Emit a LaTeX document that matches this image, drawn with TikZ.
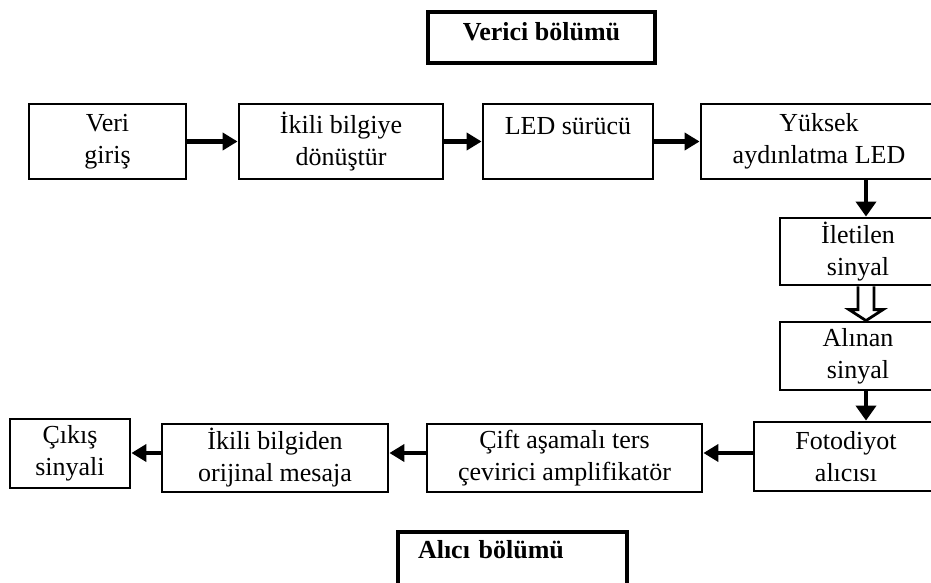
\documentclass[tikz,border=0pt]{standalone}
\usepackage{fontspec}
\setmainfont{Liberation Serif}
\usetikzlibrary{arrows.meta, positioning, calc}

\begin{document}
\begin{tikzpicture}[x=0.5pt, y=-0.5pt,
    blok/.style={draw, line width=1.4pt, align=center, minimum height=37.5pt, inner sep=2pt, font=\fontsize{13}{16}\selectfont},
    ok/.style={-{Triangle[length=7.5pt, width=8.5pt]}, line width=2.2pt},
    bos/.style={line width=1.4pt, fill=white, line join=miter}]

        \useasboundingbox (0,0) rectangle (931,583);

        % ------------------ Verici ------------------

        \node[blok, line width=1.7pt, minimum width=113.5pt, minimum height=25.5pt, text depth=6pt, font=\bfseries\fontsize{13}{16}\selectfont] (verici) at (541.5,37.5) {Verici bölümü};

        \node[blok, minimum width=78.5pt] (veri) at (107.5,141.5) {Veri\\giriş};
        \node[blok, minimum width=102pt] (ikili) at (341,141.5) {İkili bilgiye\\dönüştür};
        \node[blok, minimum width=85pt] (led) at (568,141.5) {LED sürücü\\~};
        \node[blok, minimum width=118pt] (yuksek) at (819,141.5) {Yüksek\\aydınlatma LED};

        % Arrows
        \draw[ok] (veri) -- (ikili);
        \draw[ok] (ikili) -- (led);
        \draw[ok] (led) -- (yuksek);

        % ------------------ Sinyal ------------------

        \node[blok, minimum width=78pt, minimum height=33.5pt] (iletilen) at (858,251.5) {İletilen\\sinyal};
        \node[blok, minimum width=78pt, minimum height=34pt] (alinan) at (858,356) {Alınan\\sinyal};

        \draw[ok, -{Triangle[length=7.5pt, width=10pt]}] ([xshift=4pt]iletilen.north |- yuksek.south) -- ([xshift=4pt]iletilen.north);

        % hollow arrow
        \coordinate (dtop) at ([xshift=4pt]iletilen.south);
        \coordinate (dtip) at ([xshift=4pt]alinan.north);
        \draw[bos] ([xshift=-4pt]dtop) -- ([xshift=-4pt,yshift=5.5pt]dtip) -- ([xshift=-8.5pt,yshift=5.5pt]dtip) -- (dtip)
            -- ([xshift=8.5pt,yshift=5.5pt]dtip) -- ([xshift=4pt,yshift=5.5pt]dtip) -- ([xshift=4pt]dtop);

        % ------------------ Alici ------------------

        \node[blok, minimum width=92pt, minimum height=34.5pt] (foto) at (846,456.5) {Fotodiyot\\alıcısı};
        \node[blok, minimum width=137.5pt, minimum height=34pt] (cift) at (564.5,458) {Çift aşamalı ters\\çevirici amplifikatör};
        \node[blok, minimum width=113pt, minimum height=34pt] (ikili2) at (275,458) {İkili bilgiden\\orijinal mesaja};
        \node[blok, minimum width=60pt, minimum height=34.5pt] (cikis) at (70,453.5) {Çıkış\\sinyali};

        \draw[ok, -{Triangle[length=7.5pt, width=10pt]}] ([xshift=4pt]alinan.south) -- ([xshift=4pt]alinan.south |- foto.north);
        \draw[ok] ([yshift=1.75pt]foto.west) -- ([yshift=1.75pt]foto.west -| cift.east);
        \draw[ok] ([yshift=2.5pt]cift.west) -- ([yshift=2.5pt]cift.west -| ikili2.east);
        \draw[ok] ([yshift=2.5pt]ikili2.west) -- ([yshift=2.5pt]ikili2.west -| cikis.east);

        \node[blok, line width=1.7pt, minimum width=114.5pt, minimum height=34pt, text width=94.5pt, align=left, text depth=17pt, font=\bfseries\fontsize{13}{16}\selectfont] (alici) at (512.5,566) {Alıcı bölümü};

\end{tikzpicture}
\end{document}
